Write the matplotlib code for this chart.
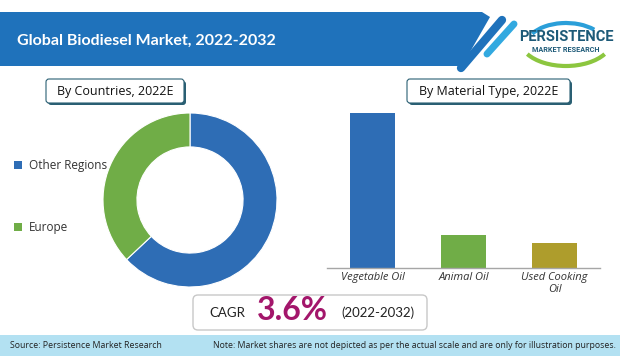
import matplotlib
matplotlib.use("Agg")
import matplotlib.pyplot as plt
from matplotlib.patches import FancyBboxPatch, Polygon, Rectangle, Arc
import numpy as np

# data
title = "Global Biodiesel Market, 2022-2032"
region_labels = ["Other Regions", "Europe"]
region_shares = [63, 37]
region_colors = ["#2e6db5", "#70ad47"]

material_labels = ["Vegetable Oil", "Animal Oil", "Used Cooking\nOil"]
material_values = [100, 21, 16]
material_colors = ["#2e6db5", "#70ad47", "#ae9d2c"]

cagr = "3.6%"
period = "(2022-2032)"

W, H = 620, 356
fig = plt.figure(figsize=(W / 100, H / 100), dpi=100)
plt.rcParams['font.family'] = ['Open Sans', 'DejaVu Sans']


def box(l, t, w, h):
    # pixel box (top-left origin) -> figure fraction
    return [l / W, (H - t - h) / H, w / W, h / H]


# overlay for decorations, pixel coords
bg = fig.add_axes([0, 0, 1, 1])
bg.set_xlim(0, W)
bg.set_ylim(H, 0)
bg.axis("off")

# header banner with slanted right end
banner = Polygon([(0, 12), (482, 12), (490, 17), (462, 66), (0, 66)],
                 closed=True, fc="#1f72bb", ec="none")
bg.add_patch(banner)
bg.text(17, 41, title, color="white", fontsize=11.5, fontweight="bold",
        family=["Lato", "DejaVu Sans"], va="center", ha="left")
bg.plot([502, 461], [20, 68], color="#1f72bb", lw=6, solid_capstyle="round")
bg.plot([514, 487], [24, 54], color="#32a9e0", lw=5, solid_capstyle="round")

# logo
bg.add_patch(Arc((566, 40), 92, 52, theta1=20, theta2=160, color="#8cc63f", lw=3))
bg.add_patch(Arc((566, 46), 80, 46, theta1=200, theta2=330, color="#2b9fd9", lw=3))
bg.text(566, 37, "PERSISTENCE", color="#1d5a78", fontsize=10.5, fontweight="bold",
        family=["Roboto", "DejaVu Sans"], ha="center", va="center", fontstretch="condensed")
bg.text(566, 50, "MARKET RESEARCH", color="#1d5a78", fontsize=5.2, fontweight="bold",
        family=["Roboto", "DejaVu Sans"], ha="center", va="center")

# subtitle boxes
for (l, t, w, h, txt) in [(46, 79, 138, 24, "By Countries, 2022E"),
                          (407, 79, 163, 24, "By Material Type, 2022E")]:
    bg.add_patch(FancyBboxPatch((l + 2, t + 2), w, h, boxstyle="round,pad=0,rounding_size=3",
                                fc="#2a5f73", ec="none"))
    bg.add_patch(FancyBboxPatch((l, t), w, h, boxstyle="round,pad=0,rounding_size=3",
                                fc="white", ec="#2a5f73", lw=0.8))
    bg.text(l + w / 2, t + h / 2 + 1, txt, fontsize=9, color="#111111",
            ha="center", va="center")

# legend for donut
for i, (lab, c) in enumerate(zip(region_labels, region_colors)):
    y = 165 + i * 62
    bg.add_patch(Rectangle((14, y - 4), 8, 8, fc=c, ec="none"))
    bg.text(29, y, lab, fontsize=8.5, color="#333333", va="center", ha="left")

# CAGR box
bg.add_patch(FancyBboxPatch((193, 295), 234, 35, boxstyle="round,pad=0,rounding_size=5",
                            fc="white", ec="#c8c8c8", lw=1))
bg.text(209, 313, "CAGR", fontsize=9.5, color="#222222", va="center", ha="left",
        family=["Lato", "DejaVu Sans"])
bg.text(257, 311, cagr, fontsize=23, fontweight="bold", color="#a3166b",
        va="center", ha="left", family=["Lato", "DejaVu Sans"])
bg.text(341, 313, period, fontsize=9.5, color="#222222", va="center", ha="left",
        family=["Lato", "DejaVu Sans"])

# footer band
bg.add_patch(Rectangle((0, 335), W, 21, fc="#b3e1f2", ec="none"))
bg.text(10, 345, "Source: Persistence Market Research", fontsize=6.3, color="#222222",
        va="center", ha="left")
bg.text(616, 345, "Note: Market shares are not depicted as per the actual scale and are only for illustration purposes.",
        fontsize=6.3, color="#222222", va="center", ha="right")

# donut
ax1 = fig.add_axes(box(103, 113, 174, 174))
ax1.pie(region_shares, colors=region_colors, startangle=90, counterclock=False,
        radius=1, wedgeprops=dict(width=0.39, edgecolor="white", linewidth=0.8))
ax1.set_xlim(-1, 1)
ax1.set_ylim(-1, 1)
ax1.axis("off")

# bars
ax2 = fig.add_axes(box(327, 113, 273, 155))
x = np.arange(len(material_values))
ax2.bar(x, material_values, width=0.5, color=material_colors)
ax2.set_xlim(-0.5, 2.5)
ax2.set_ylim(0, 100)
for s in ["top", "right", "left"]:
    ax2.spines[s].set_visible(False)
ax2.spines["bottom"].set_color("#a6a6a6")
ax2.spines["bottom"].set_linewidth(1)
ax2.set_yticks([])
ax2.set_xticks(x)
ax2.set_xticklabels(material_labels, fontsize=8, style="italic", color="#333333",
                    linespacing=1.1)
ax2.tick_params(axis="x", length=0, pad=3)

fig.savefig("out.png", dpi=100)
